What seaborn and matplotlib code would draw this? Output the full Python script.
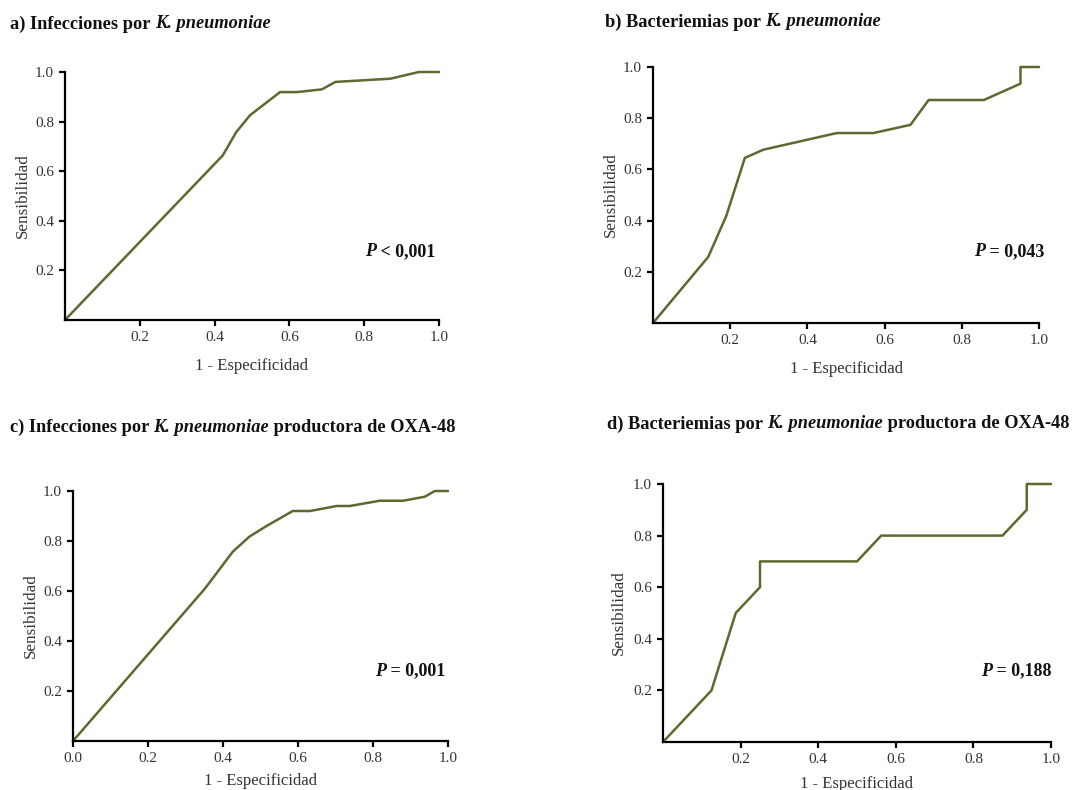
import matplotlib
matplotlib.use("Agg")
import matplotlib.pyplot as plt
from matplotlib.ticker import FormatStrFormatter
import seaborn as sns
import pandas as pd

# ROC curves: 1 - specificity (fpr) vs sensitivity (tpr)
fpr_a = [0.0, 0.422, 0.458, 0.495, 0.575, 0.620, 0.687, 0.723, 0.870, 0.946, 1.0]
tpr_a = [0.0, 0.664, 0.758, 0.826, 0.919, 0.919, 0.930, 0.960, 0.973, 1.0, 1.0]

fpr_b = [0.0, 0.143, 0.190, 0.238, 0.286, 0.476, 0.571, 0.667, 0.714, 0.857, 0.952, 0.952, 1.0]
tpr_b = [0.0, 0.258, 0.419, 0.645, 0.677, 0.742, 0.742, 0.774, 0.871, 0.871, 0.935, 1.0, 1.0]

fpr_c = [0.0, 0.352, 0.426, 0.470, 0.516, 0.586, 0.632, 0.703, 0.738, 0.818, 0.880, 0.938, 0.965, 1.0]
tpr_c = [0.0, 0.610, 0.757, 0.817, 0.860, 0.920, 0.920, 0.940, 0.940, 0.961, 0.961, 0.977, 1.0, 1.0]

fpr_d = [0.0, 0.125, 0.1875, 0.25, 0.25, 0.5, 0.5625, 0.875, 0.9375, 0.9375, 1.0]
tpr_d = [0.0, 0.2, 0.5, 0.6, 0.7, 0.7, 0.8, 0.8, 0.9, 1.0, 1.0]

titles = [
    [("a) Infecciones por ", "normal"), ("K. pneumoniae", "italic")],
    [("b) Bacteriemias por ", "normal"), ("K. pneumoniae", "italic")],
    [("c) Infecciones por ", "normal"), ("K. pneumoniae", "italic"), (" productora de OXA-48", "normal")],
    [("d) Bacteriemias por ", "normal"), ("K. pneumoniae", "italic"), (" productora de OXA-48", "normal")],
]
p_labels = ["< 0,001", "= 0,043", "= 0,001", "= 0,188"]

sns.set_style("ticks")
plt.rcParams["font.family"] = ["Liberation Serif", "DejaVu Serif"]

W, H = 1073, 790
fig = plt.figure(figsize=(W / 100, H / 100), dpi=100)

# axes boxes in pixels: left, right, top, bottom
boxes = [(65, 439, 72, 320), (653, 1039, 67, 323), (73, 448, 491, 741), (663, 1051, 484, 742)]
title_pos = [(10, 24), (605, 22), (10, 427), (607, 424)]
p_pos = [(435, 252), (1044, 252), (445, 671), (1052, 671)]
xlabel_pad = [10, 10, 6, 7]
ylabel_pad = [3, 3, 3, 4]

LINE = "#5b6a2e"
data = [(fpr_a, tpr_a), (fpr_b, tpr_b), (fpr_c, tpr_c), (fpr_d, tpr_d)]

fig.canvas.draw()
renderer = fig.canvas.get_renderer()


def rich_text(pieces, x, y, size, align="left"):
    """Draw consecutive text pieces with different styles on one line (pixel coords)."""
    arts = []
    for txt, style in pieces:
        t = fig.text(0, 0, txt, fontsize=size, fontweight="bold", fontstyle=style,
                     va="center", ha="left", transform=None, color="#111111")
        arts.append(t)
    widths = [a.get_window_extent(renderer).width for a in arts]
    total = sum(widths)
    cx = x if align == "left" else x - total
    for a, w in zip(arts, widths):
        a.set_position((cx, H - y))
        cx += w


for i, ((l, r, t, b), (fx, ty)) in enumerate(zip(boxes, data)):
    ax = fig.add_axes([l / W, (H - b) / H, (r - l) / W, (b - t) / H])
    df = pd.DataFrame({"fpr": fx, "tpr": ty})
    sns.lineplot(data=df, x="fpr", y="tpr", sort=False, estimator=None, ax=ax,
                 color=LINE, linewidth=1.8, clip_on=False)
    ax.set_xlim(0, 1)
    ax.set_ylim(0, 1)
    if i == 2:
        ax.set_xticks([0.0, 0.2, 0.4, 0.6, 0.8, 1.0])
    else:
        ax.set_xticks([0.2, 0.4, 0.6, 0.8, 1.0])
    ax.set_yticks([0.2, 0.4, 0.6, 0.8, 1.0])
    ax.xaxis.set_major_formatter(FormatStrFormatter("%.1f"))
    ax.yaxis.set_major_formatter(FormatStrFormatter("%.1f"))
    sns.despine(ax=ax)
    for s in ("left", "bottom"):
        ax.spines[s].set_linewidth(1.6)
        ax.spines[s].set_color("black")
    ax.tick_params(direction="out", length=4, width=1.6, labelsize=11, colors="black",
                   labelcolor="#333333", pad=4)
    ax.set_xlabel("1 - Especificidad", fontsize=12, color="#333333",
                  labelpad=xlabel_pad[i])
    ax.set_ylabel("Sensibilidad", fontsize=12.3, color="#333333", labelpad=ylabel_pad[i])
    rich_text(titles[i], title_pos[i][0], title_pos[i][1], 13.2)
    rich_text([("P", "italic"), (" " + p_labels[i], "normal")], p_pos[i][0], p_pos[i][1], 13,
              align="right")

fig.savefig("out.png", dpi=100, facecolor="white")
